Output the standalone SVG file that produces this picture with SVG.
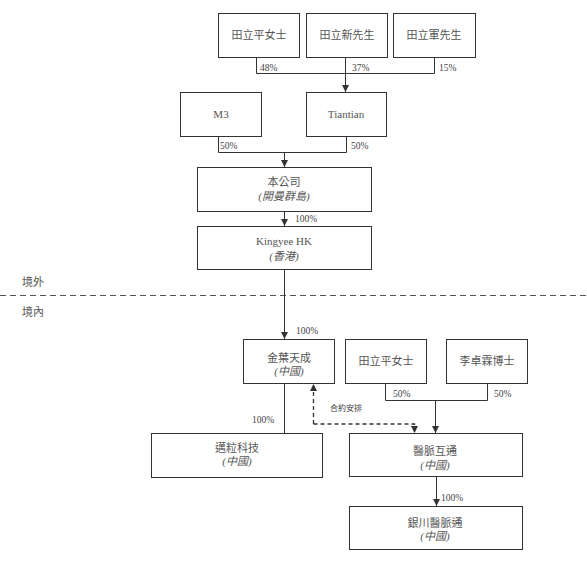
<svg xmlns="http://www.w3.org/2000/svg" width="587" height="571" viewBox="0 0 587 571">
<style>
.box{fill:#fff;stroke:#333;stroke-width:1}
.t{font-family:"Liberation Serif","Noto Sans CJK TC",serif;font-size:11px;fill:#555;text-anchor:middle}
.i{font-style:italic}
.p{font-family:"Liberation Serif","Noto Sans CJK TC",serif;font-size:9.5px;fill:#444}
.ln{fill:none;stroke:#333;stroke-width:1}
.dl{fill:none;stroke:#333;stroke-width:1.3;stroke-dasharray:4 3}
</style>
<defs>
<marker id="ah" viewBox="0 0 10 10" refX="10" refY="5" markerWidth="7" markerHeight="7" orient="auto" markerUnits="userSpaceOnUse">
<path d="M0,0 L10,5 L0,10 z" fill="#333"/>
</marker>
</defs>
<rect width="587" height="571" fill="#fff"/>
<g id="boundary">
<line x1="0" y1="295.5" x2="587" y2="295.5" stroke="#555" stroke-width="1.2" stroke-dasharray="6 4"/>
<text class="t" x="33" y="286">境外</text>
<text class="t" x="33" y="316">境內</text>
</g>
<g id="connectors">
<path class="ln" d="M256.5,57 V73.5 H434.5 V57"/>
<path class="ln" d="M345.5,57 V92" marker-end="url(#ah)"/>
<path class="ln" d="M218.5,136 V152.5 H346.5 V136"/>
<path class="ln" d="M284.5,152.5 V167" marker-end="url(#ah)"/>
<path class="ln" d="M284.5,211 V226" marker-end="url(#ah)"/>
<path class="ln" d="M284.5,269 V339" marker-end="url(#ah)"/>
<path class="ln" d="M284.5,383 V433"/>
<path class="ln" d="M385.5,383 V400.5 H487.5 V383"/>
<path class="ln" d="M435.5,400.5 V433" marker-end="url(#ah)"/>
<path class="ln" d="M436.5,476 V506" marker-end="url(#ah)"/>
<path class="dl" d="M313.5,424 H414.5 V433" marker-end="url(#ah)"/>
<path class="dl" d="M313.5,424 V384" marker-end="url(#ah)"/>
<text class="p" x="260" y="71">48%</text>
<text class="p" x="352" y="71">37%</text>
<text class="p" x="439" y="71">15%</text>
<text class="p" x="220" y="149">50%</text>
<text class="p" x="351" y="149">50%</text>
<text class="p" x="295" y="222">100%</text>
<text class="p" x="296" y="334">100%</text>
<text class="p" x="252" y="423">100%</text>
<text class="p" x="393" y="397">50%</text>
<text class="p" x="494" y="397">50%</text>
<text class="p" x="441" y="501">100%</text>
<text class="p" x="330" y="411" style="font-size:8px">合約安排</text>
</g>
<g id="n1"><rect class="box" x="218.5" y="13.5" width="81" height="44"/><text class="t" x="259" y="39">田立平女士</text></g>
<g id="n2"><rect class="box" x="306.5" y="13.5" width="81" height="44"/><text class="t" x="347" y="39">田立新先生</text></g>
<g id="n3"><rect class="box" x="393.5" y="13.5" width="82" height="44"/><text class="t" x="434" y="39">田立軍先生</text></g>
<g id="m3"><rect class="box" x="180.5" y="92.5" width="81" height="44"/><text class="t" x="221" y="118">M3</text></g>
<g id="tiantian"><rect class="box" x="306.5" y="92.5" width="80" height="44"/><text class="t" x="346" y="118">Tiantian</text></g>
<g id="company"><rect class="box" x="197.5" y="167.5" width="174" height="44"/><text class="t" x="284" y="186">本公司</text><text class="t i" x="284" y="200">(開曼群島)</text></g>
<g id="kingyee"><rect class="box" x="197.5" y="226.5" width="174" height="43"/><text class="t" x="284" y="245">Kingyee HK</text><text class="t i" x="284" y="260">(香港)</text></g>
<g id="jinye"><rect class="box" x="243.5" y="339.5" width="91" height="44"/><text class="t" x="289" y="362">金葉天成</text><text class="t i" x="289" y="375">(中國)</text></g>
<g id="tian2"><rect class="box" x="345.5" y="339.5" width="81" height="44"/><text class="t" x="386" y="365">田立平女士</text></g>
<g id="li"><rect class="box" x="446.5" y="339.5" width="81" height="44"/><text class="t" x="487" y="365">李卓霖博士</text></g>
<g id="maili"><rect class="box" x="151.5" y="433.5" width="171" height="44"/><text class="t" x="237" y="452">邁粒科技</text><text class="t i" x="237" y="465">(中國)</text></g>
<g id="yimai"><rect class="box" x="349.5" y="433.5" width="173" height="43"/><text class="t" x="435" y="455">醫脈互通</text><text class="t i" x="435" y="469">(中國)</text></g>
<g id="yinchuan"><rect class="box" x="349.5" y="506.5" width="173" height="43"/><text class="t" x="435" y="527">銀川醫脈通</text><text class="t i" x="435" y="540">(中國)</text></g>
</svg>
